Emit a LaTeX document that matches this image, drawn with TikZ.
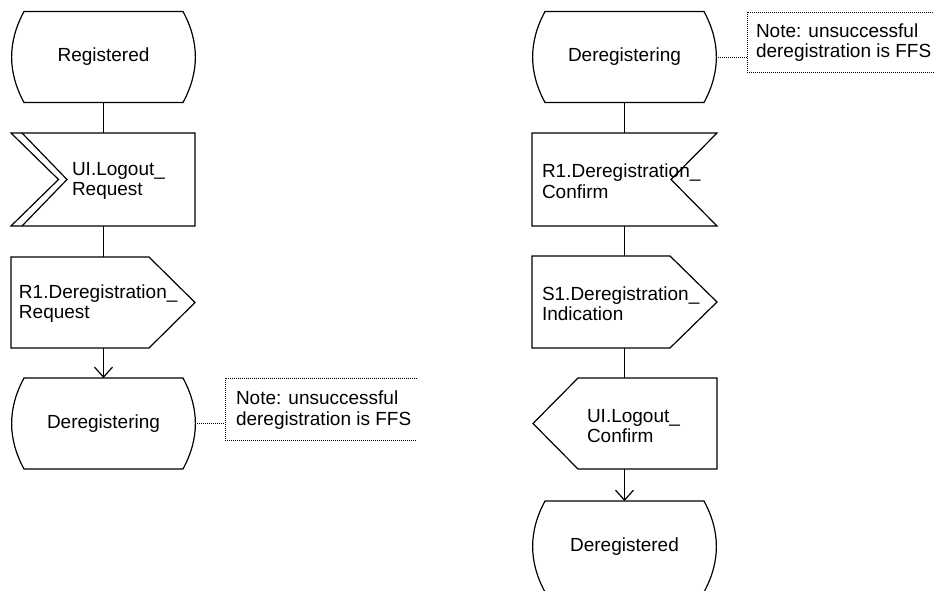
\documentclass[tikz,border=0pt]{standalone}
\usepackage{fontspec}
\setmainfont{Liberation Sans}
\usetikzlibrary{arrows.meta}
\tikzset{
 ln/.style={line width=1.2pt, line join=miter},
 box/.style={inner sep=0pt, outer sep=0pt, draw=none},
 txtfont/.style={font=\fontsize{19}{20.5}\selectfont},
 lbl/.style={inner sep=0pt, outer sep=0pt, align=left, txtfont, anchor=west},
 conn/.style={line width=1.2pt},
 arr/.style={conn, -{Straight Barb[length=10pt,width=18pt,line width=1.2pt]}},
 notebr/.style={line width=1pt, dash pattern=on 1pt off 1pt},
}
\newcommand\sdlstate[4]{%
\begin{scope}[shift={(#2,#3)}]
\node[box,txtfont,minimum width=183pt,minimum height=91pt] (#1) at (0,0) {#4};
\draw[ln] (-79.5,-45.5) -- (79.5,-45.5) .. controls (96,-15) and (96,15) .. (79.5,45.5) -- (-79.5,45.5) .. controls (-96,15) and (-96,-15) .. (-79.5,-45.5) -- cycle;
\end{scope}}
\begin{document}
\begin{tikzpicture}[x=1pt,y=-1pt]
\useasboundingbox (0,0) rectangle (934,590);
% ---------- left column ----------
\sdlstate{reg}{103.5}{57}{Registered}
\node[box,minimum width=183pt,minimum height=93pt] (uilr) at (103.5,179.5) {};
\draw[ln] (11,133) -- (195,133) -- (195,226) -- (11,226) -- (58.5,179.5) -- cycle;
\draw[ln] (22,133) -- (67,179.5) -- (22,226);
\node[lbl] (uilr-t) at (72,181) {UI.Logout\_\\Request};

\node[box,minimum width=183pt,minimum height=91pt] (r1req) at (103.5,302.5) {};
\draw[ln] (11,257) -- (149,257) -- (195,302.5) -- (149,348) -- (11,348) -- cycle;
\node[lbl] (r1req-t) at (19,303.5) {R1.Deregistration\_\\Request};

\sdlstate{deregL}{103.5}{423.5}{Deregistering}

\node[box,minimum width=192pt,minimum height=62pt] (noteL) at (321,409) {};
\draw[notebr] (noteL.north east) -- (noteL.north west) -- (noteL.south west) -- (noteL.south east);
\node[lbl] (noteL-t) at (236,410) {Note: unsuccessful\\deregistration is FFS};
\draw[notebr] (deregL.east) -- (deregL.east -| noteL.west);

\draw[conn] (reg.south) -- (uilr.north);
\draw[conn] (uilr.south) -- (r1req.north);
\draw[arr] (r1req.south) -- (deregL.north);

% ---------- right column ----------
\sdlstate{deregR}{624.5}{57}{Deregistering}
\node[box,minimum width=192pt,minimum height=60pt] (noteR) at (843,42) {};
\draw[notebr] (noteR.north east) -- (noteR.north west) -- (noteR.south west) -- (noteR.south east);
\node[lbl] (noteR-t) at (756,42.5) {Note: unsuccessful\\deregistration is FFS};
\draw[notebr] (deregR.east) -- (deregR.east -| noteR.west);

\node[box,minimum width=185pt,minimum height=93pt] (r1conf) at (624.5,179.5) {};
\draw[ln] (532,133) -- (717,133) -- (671,179.5) -- (717,226) -- (532,226) -- cycle;
\node[lbl] (r1conf-t) at (542,181) {R1.Deregistration\_\\Confirm};

\node[box,minimum width=185pt,minimum height=92pt] (s1ind) at (624.5,302) {};
\draw[ln] (532,256) -- (670,256) -- (717,302) -- (670,348) -- (532,348) -- cycle;
\node[lbl] (s1ind-t) at (542,303.5) {S1.Deregistration\_\\Indication};

\node[box,minimum width=184pt,minimum height=91pt] (uilc) at (624.5,423.5) {};
\draw[ln] (578,378) -- (717,378) -- (717,469) -- (578,469) -- (533,423.5) -- cycle;
\node[lbl] (uilc-t) at (587,426) {UI.Logout\_\\Confirm};

\sdlstate{deregd}{624.5}{546.5}{Deregistered}

\draw[conn] (deregR.south) -- (r1conf.north);
\draw[conn] (r1conf.south) -- (s1ind.north);
\draw[conn] (s1ind.south) -- (uilc.north);
\draw[arr] (uilc.south) -- (deregd.north);
\end{tikzpicture}
\end{document}
